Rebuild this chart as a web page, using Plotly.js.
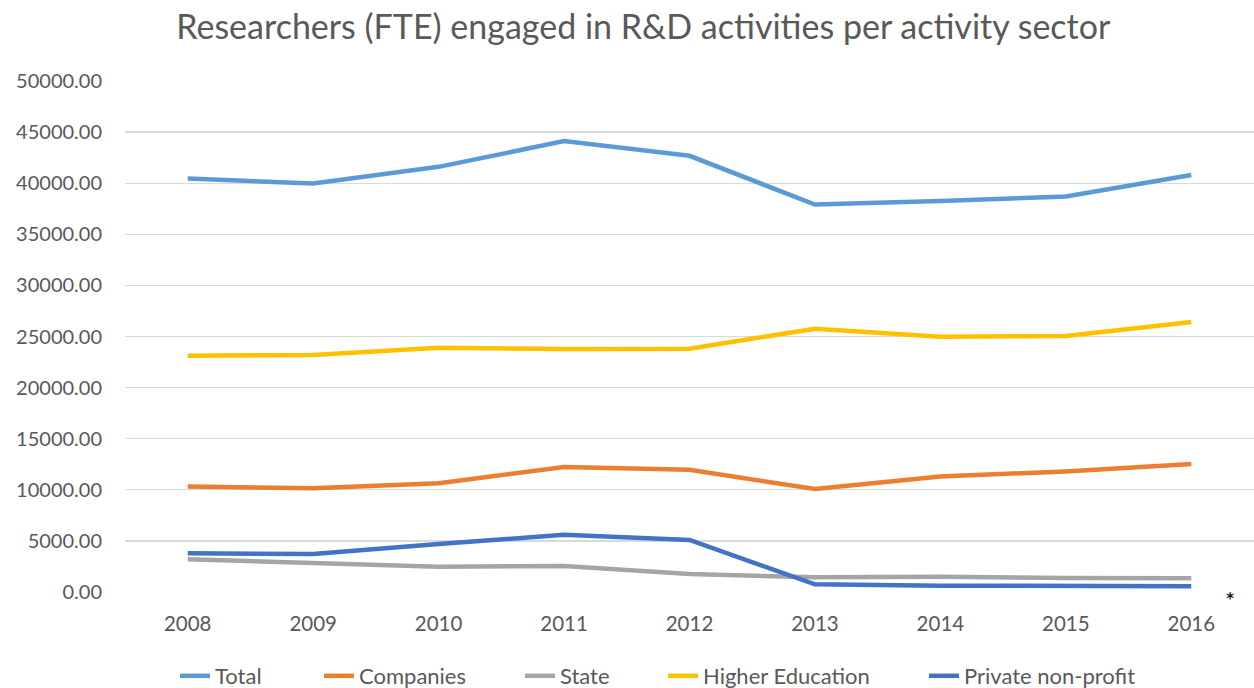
<!DOCTYPE html>
<html>
<head>
<meta charset="utf-8">
<script src="https://cdn.plot.ly/plotly-3.0.1.min.js"></script>
<style>html,body{margin:0;padding:0;background:#fff;}#chart{width:1254px;height:688px;}</style>
</head>
<body>
<div id="chart"></div>
<script>
const years = ["2008","2009","2010","2011","2012","2013","2014","2015","2016"];
const total = [40460, 39970, 41600, 44120, 42680, 37910, 38270, 38700, 40810];
const companies = [10320, 10160, 10650, 12220, 11960, 10070, 11310, 11800, 12520];
const state = [3200, 2810, 2480, 2550, 1760, 1440, 1500, 1370, 1340];
const higherEducation = [23120, 23190, 23900, 23780, 23810, 25760, 24980, 25050, 26420];
const privateNonProfit = [3790, 3720, 4700, 5590, 5100, 750, 620, 590, 560];
const yTicks = [0, 5000, 10000, 15000, 20000, 25000, 30000, 35000, 40000, 45000, 50000];

const seriesDefs = [
  {name: "Total", y: total, color: "#5B9BD5", textStart: 216},
  {name: "Companies", y: companies, color: "#ED7D31", textStart: 360},
  {name: "State", y: state, color: "#A5A5A5", textStart: 561},
  {name: "Higher Education", y: higherEducation, color: "#FFC000", textStart: 704},
  {name: "Private non-profit", y: privateNonProfit, color: "#4472C4", textStart: 965}
];

const legendKeys = ["legend", "legend2", "legend3", "legend4", "legend5"];

const traces = seriesDefs.map((s, i) => ({
  type: "scatter", mode: "lines", name: s.name, x: years, y: s.y,
  line: {color: s.color, width: 4.5}, legend: legendKeys[i]
}));

const font = "Lato, 'Open Sans', sans-serif";
const layout = {
  width: 1254, height: 688,
  margin: {l: 125, r: 0, t: 81, b: 96},
  paper_bgcolor: "#fff", plot_bgcolor: "#fff",
  font: {family: font, color: "#595959", size: 20},
  title: {text: "Researchers (FTE) engaged in R&D activities per activity sector",
    font: {family: font, size: 34, color: "#595959"},
    xref: "container", x: 0.513, xanchor: "center", yref: "container", y: 0.96, yanchor: "middle"},
  xaxis: {type: "category", range: [-0.5, 8.5], tickvals: years, ticktext: years, showgrid: false, showline: false, zeroline: false,
    ticks: "", ticklabelstandoff: 17, tickfont: {size: 20.5, color: "#595959"}},
  yaxis: {range: [0, 50000], tickvals: yTicks, ticktext: yTicks.map(v => v.toFixed(2)),
    showgrid: true, gridcolor: "#D9D9D9", gridwidth: 1.3, zeroline: false, showline: false,
    ticks: "", ticklabelstandoff: 22, tickfont: {size: 20, color: "#595959"}},
  showlegend: true,
  annotations: [{text: "*", xref: "paper", yref: "paper", x: 0.979, y: -0.015, showarrow: false,
    font: {size: 24, color: "#000"}, xanchor: "center", yanchor: "middle"}]
};

seriesDefs.forEach((s, i) => {
  layout[legendKeys[i]] = {orientation: "h", xref: "container", x: (s.textStart - 41) / 1254, xanchor: "left",
    yref: "container", y: 1 - 676 / 688, yanchor: "middle",
    font: {size: 22, color: "#595959"}, bgcolor: "rgba(0,0,0,0)"};
});

Plotly.newPlot("chart", traces, layout, {displayModeBar: false, staticPlot: true});
</script>
</body>
</html>
